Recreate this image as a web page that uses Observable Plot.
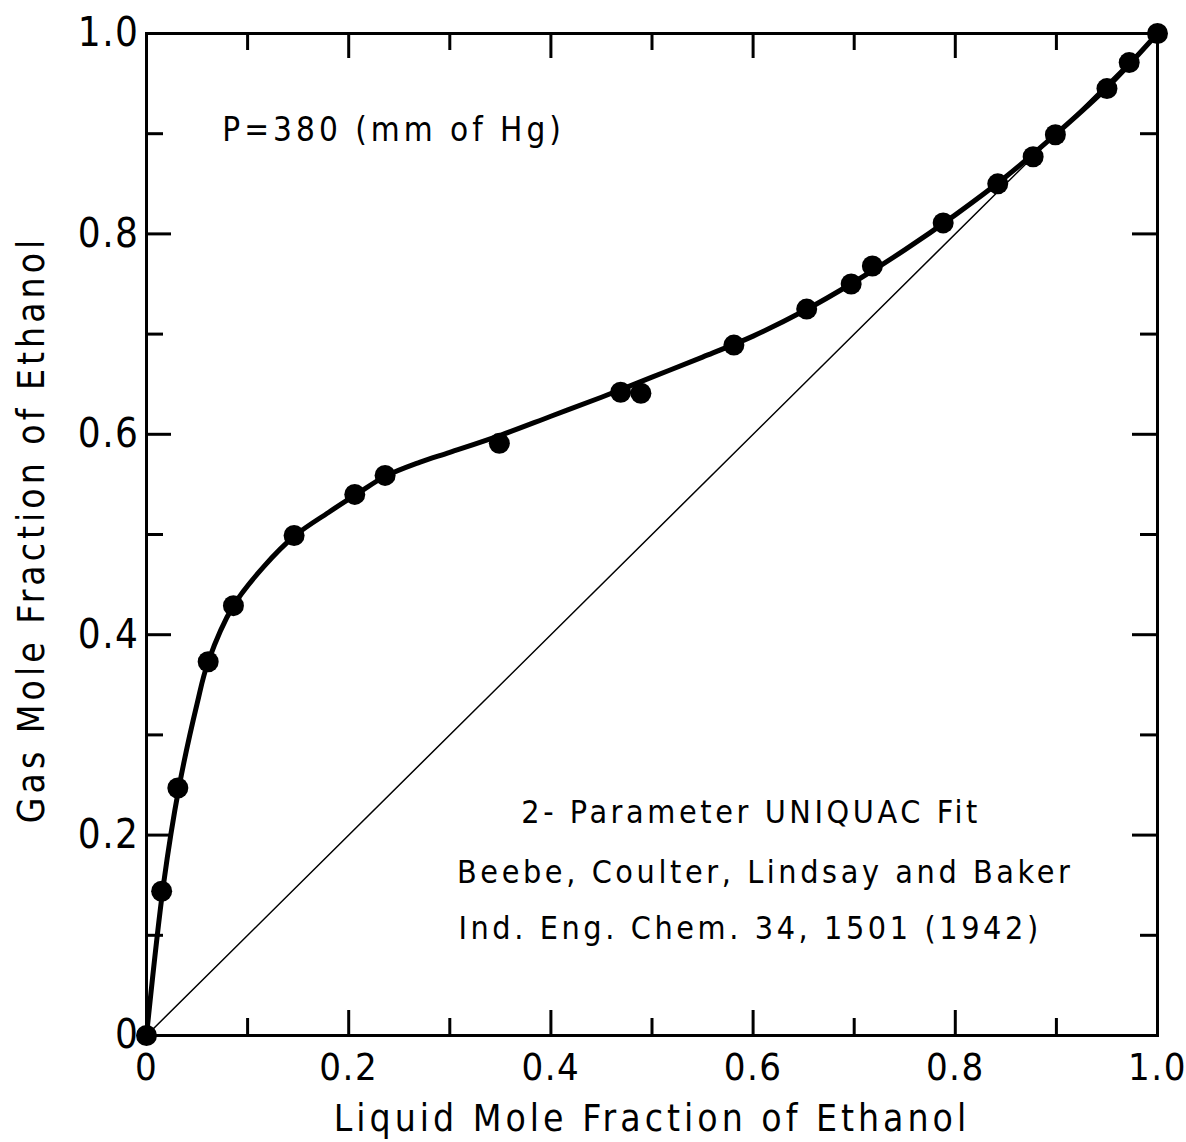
<!DOCTYPE html>
<html>
<head>
<meta charset="utf-8">
<script src="https://cdn.jsdelivr.net/npm/d3@7"></script>
<script src="https://cdn.jsdelivr.net/npm/@observablehq/plot@0.6"></script>
<style>
  html, body { margin: 0; padding: 0; background: #fff; }
  #chart svg { display: block; }
</style>
</head>
<body>
<div id="chart"></div>
<script>
// Vapour–liquid equilibrium of ethanol at P = 380 mm Hg
// Measured points (liquid mole fraction, gas mole fraction)
const liquidX = [0, 0.015, 0.031, 0.061, 0.086, 0.146, 0.206, 0.236, 0.349, 0.469, 0.489,
                 0.581, 0.653, 0.697, 0.718, 0.788, 0.842, 0.877, 0.899, 0.950, 0.972, 1.0];
const gasY    = [0, 0.144, 0.247, 0.373, 0.429, 0.499, 0.540, 0.559, 0.591, 0.642, 0.641,
                 0.689, 0.725, 0.750, 0.768, 0.811, 0.850, 0.877, 0.899, 0.945, 0.971, 1.0];

// 2-parameter UNIQUAC fit curve
const fitX = [0, 0.017, 0.032, 0.05, 0.061, 0.086, 0.116, 0.147, 0.18, 0.209, 0.236, 0.27,
              0.3, 0.35, 0.4, 0.45, 0.5, 0.55, 0.6, 0.65, 0.7, 0.75, 0.8, 0.85, 0.9, 0.95, 1.0];
const fitY = [0, 0.152, 0.247, 0.331, 0.373, 0.429, 0.468, 0.499, 0.522, 0.541, 0.558, 0.572,
              0.582, 0.599, 0.618, 0.637, 0.657, 0.677, 0.698, 0.723, 0.752, 0.784, 0.819,
              0.857, 0.900, 0.946, 1.0];

// y = x reference line
const diagonal = [0, 1];

// Axis ticks
const labelTicks = [0, 0.2, 0.4, 0.6, 0.8, 1.0];
const majorTicks = [0.2, 0.4, 0.6, 0.8];
const minorTicks = [0.1, 0.3, 0.5, 0.7, 0.9];
const tickLabel = d => d === 0 ? "0" : d.toFixed(1);

// Annotation texts
const titleX = "Liquid Mole Fraction of Ethanol";
const titleY = "Gas Mole Fraction of Ethanol";
const pressureNote = "P=380 (mm of Hg)";
const fitNotes = [
  {text: "2- Parameter UNIQUAC Fit", x: 0.598, y: 0.222},
  {text: "Beebe, Coulter, Lindsay and Baker", x: 0.612, y: 0.162},
  {text: "Ind. Eng. Chem. 34, 1501 (1942)", x: 0.597, y: 0.107}
];

const points = liquidX.map((x, i) => ({x, y: gasY[i]}));
const fit = fitX.map((x, i) => ({x, y: fitY[i]}));

const W = 1186, H = 1142;
const mL = 146, mR = 29, mT = 33, mB = 107;
const frameW = W - mL - mR, frameH = H - mT - mB;
const majorLen = 25, minorLen = 17;
const font = "'DejaVu Sans Condensed', 'DejaVu Sans', sans-serif";

// Ticks drawn inward on all four sides of the frame
const inwardTicks = (ticks, len) => [
  Plot.tickX(ticks, {x: d => d, insetTop: frameH - len, stroke: "black", strokeWidth: 3}),
  Plot.tickX(ticks, {x: d => d, insetBottom: frameH - len, stroke: "black", strokeWidth: 3}),
  Plot.tickY(ticks, {y: d => d, insetRight: frameW - len, stroke: "black", strokeWidth: 3}),
  Plot.tickY(ticks, {y: d => d, insetLeft: frameW - len, stroke: "black", strokeWidth: 3})
];

const chart = Plot.plot({
  width: W,
  height: H,
  marginLeft: mL,
  marginRight: mR,
  marginTop: mT,
  marginBottom: mB,
  style: {fontFamily: font, background: "#fff", color: "black", letterSpacing: "4px"},
  x: {domain: [0, 1]},
  y: {domain: [0, 1]},
  marks: [
    Plot.frame({stroke: "black", strokeWidth: 3}),
    ...inwardTicks(majorTicks, majorLen),
    ...inwardTicks(minorTicks, minorLen),
    Plot.axisX({ticks: labelTicks, tickSize: 0, tickPadding: 18, tickFormat: tickLabel,
                fontSize: 38, label: null}),
    Plot.axisY({ticks: labelTicks, tickSize: 0, tickPadding: 7, tickFormat: tickLabel,
                fontSize: 40, label: null}),
    Plot.line(diagonal, {x: d => d, y: d => d, stroke: "black", strokeWidth: 1.5}),
    Plot.line(fit, {x: "x", y: "y", curve: "catmull-rom", stroke: "black", strokeWidth: 5}),
    Plot.dot(points, {x: "x", y: "y", r: 10.5, fill: "black"}),
    Plot.text([pressureNote], {x: 0.075, y: 0.903, textAnchor: "start", fontSize: 33}),
    Plot.text(fitNotes, {x: "x", y: "y", text: "text", fontSize: 32}),
    Plot.text([titleX], {frameAnchor: "bottom", lineAnchor: "middle", dy: 84, fontSize: 37}),
    Plot.text([titleY], {frameAnchor: "left", textAnchor: "middle", lineAnchor: "middle",
                         dx: -114, dy: -5, rotate: -90, fontSize: 37})
  ]
});

// Tighter spacing for the numeric tick labels and the citation block
const svg = d3.select(chart);
svg.selectAll('g[aria-label="x-axis tick label"] text, g[aria-label="y-axis tick label"] text')
  .style("letter-spacing", "1.5px");
svg.selectAll("text")
  .filter(function () { return fitNotes.some(n => n.text === this.textContent); })
  .style("letter-spacing", "3.6px");

document.getElementById("chart").appendChild(chart);
</script>
</body>
</html>
